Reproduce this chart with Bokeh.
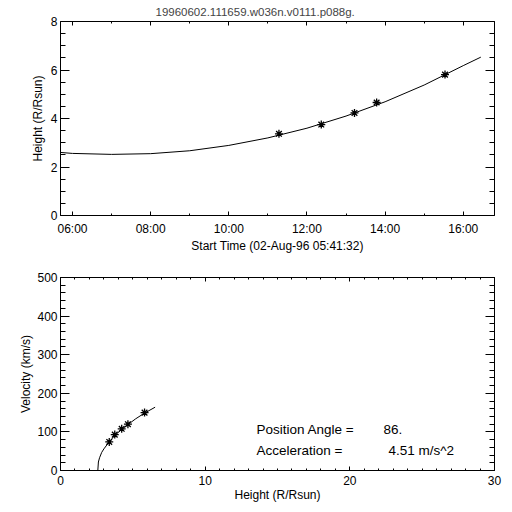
import pandas as pd
from bokeh.plotting import figure
from bokeh.layouts import column
from bokeh.models import (FixedTicker, DatetimeTickFormatter, LinearAxis, DatetimeAxis,
                          Range1d, Label)
from bokeh.embed import file_html
from bokeh.resources import INLINE

# ---------------- data ----------------
title_text = "19960602.111659.w036n.v0111.p088g."
obs_date = "1996-08-02"
start_time = "05:41:32"
end_time = "16:48:00"
time_axis_label = "Start Time (02-Aug-96 05:41:32)"

obs_times = ["11:17", "12:22", "13:13", "13:47", "15:32"]
obs_heights = [3.37, 3.75, 4.23, 4.66, 5.81]

fit_times = ["05:41:32", "06:00", "07:00", "08:00", "09:00", "10:00", "11:00",
             "12:00", "13:00", "14:00", "15:00", "16:00", "16:27"]
fit_heights = [2.60, 2.56, 2.52, 2.55, 2.67, 2.89, 3.20, 3.60, 4.10, 4.69, 5.38, 6.18, 6.53]

obs_velocity = [74, 93, 108, 120, 150]
fit_vel_heights = [2.58, 2.62, 2.70, 2.85, 3.00, 3.34, 3.76, 4.22, 4.63, 5.20, 5.78, 6.54]
fit_velocity = [0, 22, 33, 47, 56, 73, 91, 106, 118, 134, 148, 164]

time_major = ["06:00", "08:00", "10:00", "12:00", "14:00", "16:00"]
time_minor = ["07:00", "09:00", "11:00", "13:00", "15:00"]
height_major = [0, 2, 4, 6, 8]
height_minor = [0.5 * i for i in range(17)]
hx_major = [0, 10, 20, 30]
hx_minor = list(range(31))
vel_major = [0, 100, 200, 300, 400, 500]
vel_minor = list(range(0, 501, 20))

pa_label, pa_value = "Position Angle =", "86."
acc_label, acc_value = "Acceleration =", "4.51 m/s^2"

FONT = "Liberation Sans"


def ts(t):
    return pd.Timestamp(obs_date + " " + t)


def ms(t):
    return ts(t).value // 10**6


def style_axis(ax, tick_in, minor_in):
    ax.axis_line_color = None
    ax.major_tick_in = tick_in
    ax.major_tick_out = 0
    ax.minor_tick_in = minor_in
    ax.minor_tick_out = 0
    ax.major_tick_line_color = "black"
    ax.minor_tick_line_color = "black"
    ax.major_label_text_font = FONT
    ax.major_label_text_font_size = "12px"
    ax.major_label_text_color = "black"
    ax.axis_label_text_font = FONT
    ax.axis_label_text_font_size = "12px"
    ax.axis_label_text_font_style = "normal"
    ax.axis_label_text_color = "black"


def blank_axis(ax):
    ax.major_label_text_font_size = "1px"
    ax.major_label_text_color = None
    ax.major_label_standoff = 0


def base_figure(**kw):
    f = figure(output_backend="svg", toolbar_location=None, **kw)
    f.grid.visible = False
    f.outline_line_color = "black"
    f.outline_line_width = 1
    f.background_fill_color = "white"
    f.border_fill_color = "white"
    return f


# ---------------- top: height vs time ----------------
top = base_figure(width=504, height=256, x_axis_type="datetime",
                  x_range=Range1d(ts(start_time), ts(end_time)), y_range=Range1d(0, 8),
                  min_border_left=60, min_border_right=10, min_border_top=21, min_border_bottom=41)

top.title.text = title_text
top.title.align = "left"
top.title.offset = 95
top.title.text_font = FONT
top.title.text_font_size = "11.5px"
top.title.text_font_style = "normal"
top.title.standoff = 7

tticker = FixedTicker(ticks=[ms(t) for t in time_major],
                      minor_ticks=[ms(t) for t in time_major + time_minor])
hticker = FixedTicker(ticks=height_major, minor_ticks=height_minor)
fmt = DatetimeTickFormatter(hours="%H:%M", hourmin="%H:%M", minutes="%H:%M", days="%H:%M")

xa = top.xaxis[0]
xa.ticker = tticker
xa.formatter = fmt
xa.axis_label = time_axis_label
style_axis(xa, 4, 2)
xa.major_label_standoff = 6
xa.axis_label_standoff = 0

ya = top.yaxis[0]
ya.ticker = hticker
ya.axis_label = "Height (R/Rsun)"
style_axis(ya, 9, 5)
ya.major_label_standoff = 3
ya.axis_label_standoff = 3

ra = LinearAxis(ticker=hticker)
style_axis(ra, 9, 5)
blank_axis(ra)
top.add_layout(ra, "right")
ua = DatetimeAxis(ticker=tticker, formatter=fmt)
style_axis(ua, 4, 2)
blank_axis(ua)
top.add_layout(ua, "above")

top.line([ts(t) for t in fit_times], fit_heights, line_color="black", line_width=1)
top.scatter([ts(t) for t in obs_times], obs_heights, marker="asterisk", size=8,
            line_color="black", line_width=1.3)

# ---------------- bottom: velocity vs height ----------------
bot = base_figure(width=504, height=248,
                  x_range=Range1d(0, 30), y_range=Range1d(0, 500),
                  min_border_left=60, min_border_right=10, min_border_top=21, min_border_bottom=33)

xticker = FixedTicker(ticks=hx_major, minor_ticks=hx_minor)
vticker = FixedTicker(ticks=vel_major, minor_ticks=vel_minor)

bx = bot.xaxis[0]
bx.ticker = xticker
bx.axis_label = "Height (R/Rsun)"
style_axis(bx, 4, 2)
bx.major_label_standoff = 5
bx.axis_label_standoff = 0

by = bot.yaxis[0]
by.ticker = vticker
by.axis_label = "Velocity (km/s)"
style_axis(by, 9, 5)
by.major_label_standoff = 3
by.axis_label_standoff = 1

rb = LinearAxis(ticker=vticker)
style_axis(rb, 9, 5)
blank_axis(rb)
bot.add_layout(rb, "right")
ub = LinearAxis(ticker=xticker)
style_axis(ub, 4, 2)
blank_axis(ub)
bot.add_layout(ub, "above")

bot.line(fit_vel_heights, fit_velocity, line_color="black", line_width=1)
bot.scatter(obs_heights, obs_velocity, marker="asterisk", size=8,
            line_color="black", line_width=1.3)

for x, y, txt in [(13.55, 105, pa_label), (22.33, 105, pa_value),
                  (13.55, 52, acc_label), (22.67, 52, acc_value)]:
    bot.add_layout(Label(x=x, y=y, text=txt, text_font=FONT, text_font_size="13.5px",
                         text_baseline="alphabetic", text_color="black"))

layout = column(top, bot, spacing=0)
open("out.html", "w").write(file_html(layout, INLINE))
